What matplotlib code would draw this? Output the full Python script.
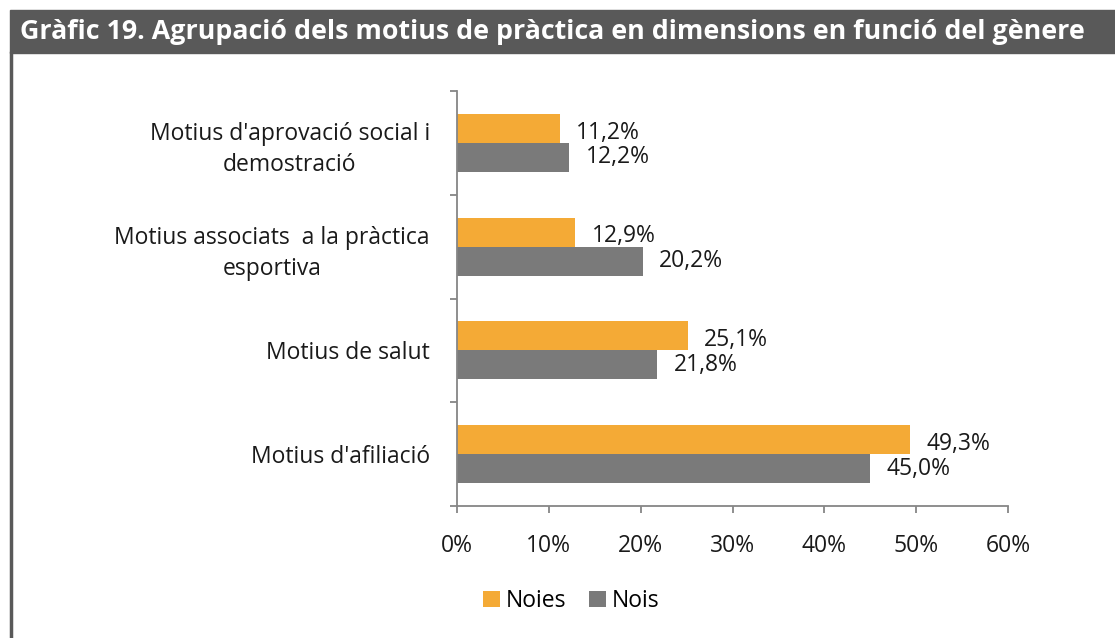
import matplotlib.pyplot as plt
import numpy as np
from matplotlib.patches import Rectangle
from matplotlib.lines import Line2D

categories = ["Motius d'aprovació social i\ndemostració",
              "Motius associats  a la pràctica\nesportiva",
              "Motius de salut",
              "Motius d'afiliació"]
noies = [11.2, 12.9, 25.1, 49.3]
nois = [12.2, 20.2, 21.8, 45.0]
xticks = [0, 10, 20, 30, 40, 50, 60]
title = "Gràfic 19. Agrupació dels motius de pràctica en dimensions en funció del gènere"

col_noies = '#F4AA36'
col_nois = '#7A7A7A'
col_axis = '#868686'
col_dark = '#595959'
fnt = ['Open Sans', 'DejaVu Sans']
fsz = 16.5

fig = plt.figure(figsize=(11.15, 6.38), dpi=100, facecolor='w')
plt.rcParams['font.family'] = fnt

# title bar and left border
fig.patches.append(Rectangle((10 / 1115, 1 - 53 / 638), 1 - 10 / 1115, 43 / 638,
                             transform=fig.transFigure, color=col_dark, zorder=0))
fig.lines.append(Line2D([11 / 1115, 11 / 1115], [0, 1 - 53 / 638], transform=fig.transFigure,
                        color=col_dark, lw=2.5))
fig.text(20 / 1115, 1 - 32 / 638, title, color='white', fontsize=19.3, fontweight='bold',
         ha='left', va='center')

ax = fig.add_axes([457 / 1115, 1 - 506 / 638, 551 / 1115, 415 / 638])
n = len(categories)
yy = np.arange(n)[::-1]
h = 0.28
b1 = ax.barh(yy + h / 2, noies, height=h, color=col_noies, label='Noies')
b2 = ax.barh(yy - h / 2, nois, height=h, color=col_nois, label='Nois')

for bars, vals, dy in [(b1, noies, 0.04), (b2, nois, 0.0)]:
    for bar, v in zip(bars, vals):
        ax.text(v + 1.8, bar.get_y() + bar.get_height() / 2 - dy, ('%.1f%%' % v).replace('.', ','),
                ha='left', va='center', fontsize=fsz, color='#1a1a1a')

ax.set_xlim(0, 60)
ax.set_ylim(-0.5, n - 0.5)
ax.set_xticks(xticks)
ax.set_xticklabels(['%d%%' % t for t in xticks], fontsize=fsz, color='#1a1a1a')
ax.set_yticks(yy)
ax.set_yticklabels(categories, fontsize=fsz, color='#1a1a1a', multialignment='center',
                   linespacing=1.4)
ax.set_yticks(np.arange(n + 1) - 0.5, minor=True)
ax.tick_params(axis='y', which='major', length=0, pad=19.5)
ax.tick_params(axis='y', which='minor', length=5, color=col_axis, width=1.3)
ax.tick_params(axis='x', length=5, color=col_axis, width=1.3, pad=15)
for s in ['top', 'right']:
    ax.spines[s].set_visible(False)
for s in ['left', 'bottom']:
    ax.spines[s].set_color(col_axis)
    ax.spines[s].set_linewidth(1.3)

fig.legend(handles=[b1, b2], loc='center', bbox_to_anchor=(571 / 1115, 1 - 601 / 638), ncol=2,
           frameon=False, fontsize=fsz, handlelength=0.75, handleheight=0.75, handletextpad=0.25,
           columnspacing=1.0)

fig.savefig('out.png', dpi=100, facecolor='w')
